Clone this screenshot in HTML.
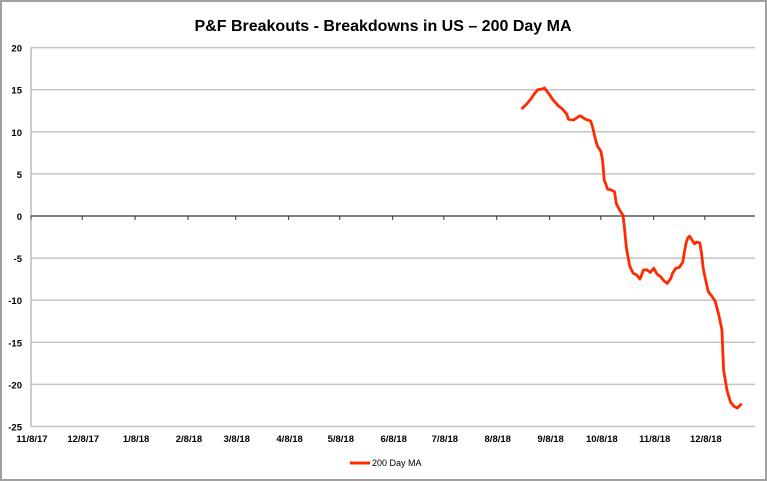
<!DOCTYPE html>
<html><head><meta charset="utf-8"><style>
html,body{margin:0;padding:0;background:#fff;}
svg{display:block;font-family:"Liberation Sans",sans-serif;}
</style></head><body>
<svg id="chart" width="767" height="481">
<rect x="1" y="1" width="765" height="479" fill="#fff" stroke="#a0a0a0" stroke-width="2"/>
<text x="383" y="31" text-anchor="middle" font-size="16" font-weight="bold" fill="#000">P&amp;F Breakouts - Breakdowns in US – 200 Day MA</text>
<g id="grid"></g><g id="axes"></g><g id="series"></g>
<g>
<line x1="350" y1="463" x2="370" y2="463" stroke="#ff2a00" stroke-width="3"/>
<text x="372" y="466" font-size="9" fill="#000">200 Day MA</text>
</g>
</svg>
<script>
const yTicks=[20,15,10,5,0,-5,-10,-15,-20,-25];
const xTickLabels=["11/8/17","12/8/17","1/8/18","2/8/18","3/8/18","4/8/18","5/8/18","6/8/18","7/8/18","8/8/18","9/8/18","10/8/18","11/8/18","12/8/18"];
const xTickDays=[0,30,61,92,120,151,181,212,242,273,304,334,365,395];
const days=[288,291,293,295,297,300,301,304,306,309,311,314,315,318,321,322,325,328,329,331,332,334,335,336,338,340,342,343,345,347,348,349,351,353,355,357,359,361,363,365,367,369,371,373,375,376,378,380,382,383,384,385,386,388,389,390,392,393,394,395,397,399,401,403,405,406,408,410,412,414,416];
const values=[12.8,13.4,13.9,14.5,15.0,15.1,15.2,14.4,13.8,13.1,12.8,12.1,11.5,11.4,11.8,11.9,11.5,11.3,10.7,9.0,8.3,7.7,6.7,4.3,3.2,3.1,2.9,1.5,0.7,0.1,-1.7,-3.8,-6.0,-6.8,-7.0,-7.5,-6.4,-6.4,-6.7,-6.2,-6.9,-7.2,-7.7,-8.0,-7.4,-6.8,-6.2,-6.1,-5.5,-4.3,-3.2,-2.6,-2.4,-3.0,-3.3,-3.1,-3.2,-4.4,-6.2,-7.2,-9.0,-9.5,-10.1,-11.6,-13.5,-18.3,-20.7,-22.1,-22.6,-22.8,-22.4];
const NS="http://www.w3.org/2000/svg";
const L=31,R=755,Y0=216,PX=8.42,DPX=1.706;
const xs=d=>L+d*DPX, ys=v=>Y0-v*PX;
function mk(tag,attrs,parent){const e=document.createElementNS(NS,tag);for(const k in attrs)e.setAttribute(k,attrs[k]);parent.appendChild(e);return e;}
const grid=document.getElementById('grid'),axes=document.getElementById('axes'),ser=document.getElementById('series');
yTicks.forEach(v=>{
  if(v!==0){const g=mk('line',{x1:L,x2:R,y1:ys(v),y2:ys(v),stroke:'#c4c4c4','stroke-width':1.5},grid);
  
  }
  const t=mk('text',{x:22,y:ys(v)+4,'text-anchor':'end','font-size':9.5,'font-weight':'bold',fill:'#000'},axes);
  t.textContent=v;
  
  
});
const ya=mk('line',{x1:L,x2:L,y1:ys(20),y2:ys(-25),stroke:'#999','stroke-width':1},axes);


const xa=mk('line',{x1:L,x2:R,y1:Y0,y2:Y0,stroke:'#333','stroke-width':1.2},axes);


xTickDays.forEach((d,i)=>{
  const tk=mk('line',{x1:xs(d),x2:xs(d),y1:Y0,y2:Y0+4,stroke:'#333','stroke-width':1},axes);
  
  
  const t=mk('text',{x:xs(d)+1,y:442,'text-anchor':'middle','font-size':9.5,'font-weight':'bold',fill:'#000'},axes);
  t.textContent=xTickLabels[i];
  
  
});
const pts=days.map((d,i)=>xs(d).toFixed(1)+','+ys(values[i]).toFixed(1)).join(' ');
const pl=mk('polyline',{points:pts,fill:'none',stroke:'#ff2a00','stroke-width':2.8,'stroke-linejoin':'round','stroke-linecap':'round'},ser);


</script>
</body></html>
